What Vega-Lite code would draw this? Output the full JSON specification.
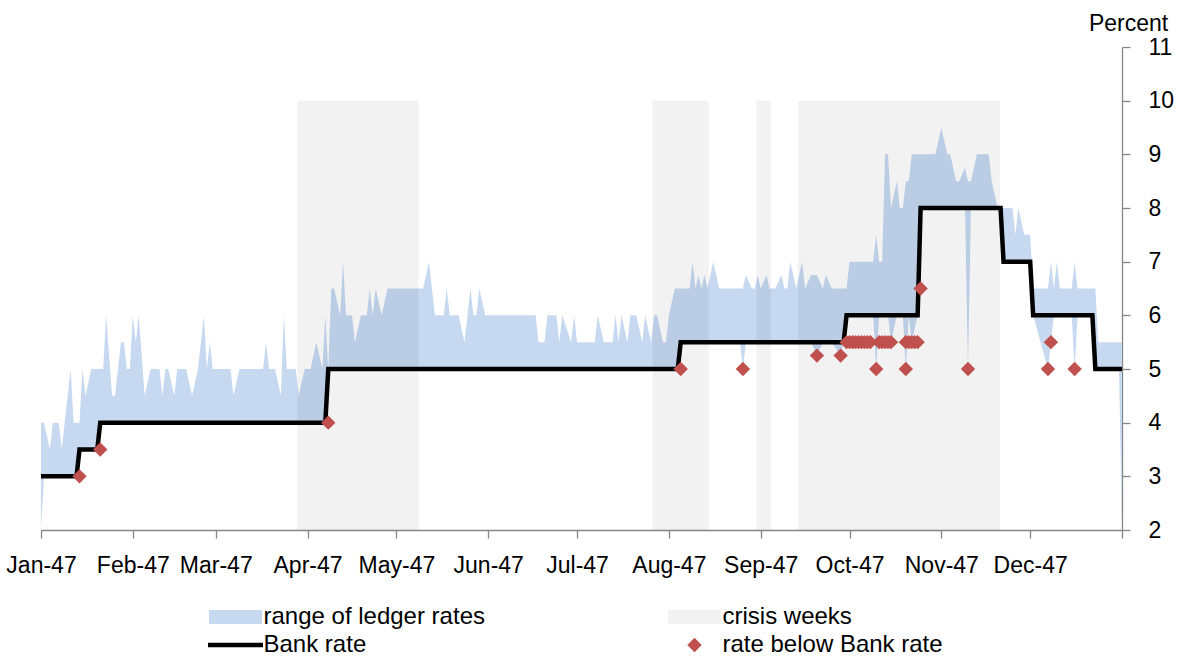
{
  "$schema": "https://vega.github.io/schema/vega-lite/v6.json",
  "width": 1081,
  "height": 483,
  "autosize": {"type": "none"},
  "padding": {"left": 41, "top": 47, "right": 57, "bottom": 127},
  "background": "white",
  "config": {"view": {"stroke": null}, "font": "Liberation Sans", "axis": {"grid": false}},
  "layer": [
    {
      "data": {"values": [
        {"date": "1847-01-01", "low": 2, "high": 4},
        {"date": "1847-01-02", "low": 3, "high": 4},
        {"date": "1847-01-04", "low": 3, "high": 3.5},
        {"date": "1847-01-05", "low": 3, "high": 4},
        {"date": "1847-01-07", "low": 3, "high": 4},
        {"date": "1847-01-08", "low": 3, "high": 3.5},
        {"date": "1847-01-11", "low": 3, "high": 5},
        {"date": "1847-01-12", "low": 3, "high": 4},
        {"date": "1847-01-13", "low": 3, "high": 4},
        {"date": "1847-01-14", "low": 3.5, "high": 4},
        {"date": "1847-01-15", "low": 3.5, "high": 5},
        {"date": "1847-01-16", "low": 3.5, "high": 4.5},
        {"date": "1847-01-18", "low": 3.5, "high": 5},
        {"date": "1847-01-20", "low": 3.5, "high": 5},
        {"date": "1847-01-21", "low": 4, "high": 5},
        {"date": "1847-01-22", "low": 4, "high": 5},
        {"date": "1847-01-23", "low": 4, "high": 6},
        {"date": "1847-01-25", "low": 4, "high": 4.5},
        {"date": "1847-01-26", "low": 4, "high": 4.5},
        {"date": "1847-01-28", "low": 4, "high": 5.5},
        {"date": "1847-01-29", "low": 4, "high": 5.5},
        {"date": "1847-01-30", "low": 4, "high": 5},
        {"date": "1847-01-31", "low": 4, "high": 5},
        {"date": "1847-02-01", "low": 4, "high": 6},
        {"date": "1847-02-02", "low": 4, "high": 5.5},
        {"date": "1847-02-03", "low": 4, "high": 6},
        {"date": "1847-02-05", "low": 4, "high": 4.5},
        {"date": "1847-02-07", "low": 4, "high": 5},
        {"date": "1847-02-10", "low": 4, "high": 5},
        {"date": "1847-02-11", "low": 4, "high": 4.5},
        {"date": "1847-02-12", "low": 4, "high": 5},
        {"date": "1847-02-13", "low": 4, "high": 5},
        {"date": "1847-02-15", "low": 4, "high": 4.5},
        {"date": "1847-02-16", "low": 4, "high": 5},
        {"date": "1847-02-19", "low": 4, "high": 5},
        {"date": "1847-02-21", "low": 4, "high": 4.5},
        {"date": "1847-02-23", "low": 4, "high": 5},
        {"date": "1847-02-25", "low": 4, "high": 6},
        {"date": "1847-02-26", "low": 4, "high": 5},
        {"date": "1847-02-27", "low": 4, "high": 5.5},
        {"date": "1847-02-28", "low": 4, "high": 5},
        {"date": "1847-03-06", "low": 4, "high": 5},
        {"date": "1847-03-07", "low": 4, "high": 4.5},
        {"date": "1847-03-09", "low": 4, "high": 5},
        {"date": "1847-03-17", "low": 4, "high": 5},
        {"date": "1847-03-18", "low": 4, "high": 5.5},
        {"date": "1847-03-19", "low": 4, "high": 5},
        {"date": "1847-03-21", "low": 4, "high": 5},
        {"date": "1847-03-23", "low": 4, "high": 4.5},
        {"date": "1847-03-24", "low": 4, "high": 6},
        {"date": "1847-03-25", "low": 4, "high": 5},
        {"date": "1847-03-28", "low": 4, "high": 5},
        {"date": "1847-03-29", "low": 4, "high": 4.5},
        {"date": "1847-03-31", "low": 4, "high": 5},
        {"date": "1847-04-02", "low": 4, "high": 5},
        {"date": "1847-04-04", "low": 4, "high": 5.5},
        {"date": "1847-04-06", "low": 4, "high": 5},
        {"date": "1847-04-07", "low": 4, "high": 6},
        {"date": "1847-04-08", "low": 5, "high": 5},
        {"date": "1847-04-09", "low": 5, "high": 6.5},
        {"date": "1847-04-10", "low": 5, "high": 6.5},
        {"date": "1847-04-12", "low": 5, "high": 6},
        {"date": "1847-04-13", "low": 5, "high": 7},
        {"date": "1847-04-14", "low": 5, "high": 6},
        {"date": "1847-04-16", "low": 5, "high": 6},
        {"date": "1847-04-17", "low": 5, "high": 5.5},
        {"date": "1847-04-19", "low": 5, "high": 6},
        {"date": "1847-04-21", "low": 5, "high": 6},
        {"date": "1847-04-22", "low": 5, "high": 6.5},
        {"date": "1847-04-23", "low": 5, "high": 6},
        {"date": "1847-04-24", "low": 5, "high": 6.5},
        {"date": "1847-04-26", "low": 5, "high": 6},
        {"date": "1847-04-28", "low": 5, "high": 6.5},
        {"date": "1847-05-10", "low": 5, "high": 6.5},
        {"date": "1847-05-12", "low": 5, "high": 7},
        {"date": "1847-05-14", "low": 5, "high": 6},
        {"date": "1847-05-17", "low": 5, "high": 6},
        {"date": "1847-05-18", "low": 5, "high": 6.5},
        {"date": "1847-05-19", "low": 5, "high": 6},
        {"date": "1847-05-22", "low": 5, "high": 6},
        {"date": "1847-05-24", "low": 5, "high": 5.5},
        {"date": "1847-05-26", "low": 5, "high": 6.5},
        {"date": "1847-05-27", "low": 5, "high": 6},
        {"date": "1847-05-28", "low": 5, "high": 6},
        {"date": "1847-05-29", "low": 5, "high": 6.5},
        {"date": "1847-05-31", "low": 5, "high": 6},
        {"date": "1847-06-17", "low": 5, "high": 6},
        {"date": "1847-06-18", "low": 5, "high": 5.5},
        {"date": "1847-06-20", "low": 5, "high": 5.5},
        {"date": "1847-06-21", "low": 5, "high": 6},
        {"date": "1847-06-24", "low": 5, "high": 6},
        {"date": "1847-06-25", "low": 5, "high": 5.5},
        {"date": "1847-06-26", "low": 5, "high": 6},
        {"date": "1847-06-29", "low": 5, "high": 5.5},
        {"date": "1847-06-30", "low": 5, "high": 6},
        {"date": "1847-07-01", "low": 5, "high": 5.5},
        {"date": "1847-07-07", "low": 5, "high": 5.5},
        {"date": "1847-07-08", "low": 5, "high": 6},
        {"date": "1847-07-10", "low": 5, "high": 5.5},
        {"date": "1847-07-13", "low": 5, "high": 5.5},
        {"date": "1847-07-14", "low": 5, "high": 6},
        {"date": "1847-07-15", "low": 5, "high": 5.5},
        {"date": "1847-07-16", "low": 5, "high": 6},
        {"date": "1847-07-18", "low": 5, "high": 5.5},
        {"date": "1847-07-19", "low": 5, "high": 6},
        {"date": "1847-07-21", "low": 5, "high": 6},
        {"date": "1847-07-23", "low": 5, "high": 5.5},
        {"date": "1847-07-24", "low": 5, "high": 6},
        {"date": "1847-07-26", "low": 5, "high": 5.5},
        {"date": "1847-07-27", "low": 5, "high": 6},
        {"date": "1847-07-28", "low": 5, "high": 6},
        {"date": "1847-07-30", "low": 5, "high": 5.5},
        {"date": "1847-07-31", "low": 5, "high": 5.5},
        {"date": "1847-08-01", "low": 5, "high": 6},
        {"date": "1847-08-03", "low": 5, "high": 6.5},
        {"date": "1847-08-04", "low": 5, "high": 6.5},
        {"date": "1847-08-05", "low": 5.5, "high": 6.5},
        {"date": "1847-08-08", "low": 5.5, "high": 6.5},
        {"date": "1847-08-09", "low": 5.5, "high": 7},
        {"date": "1847-08-10", "low": 5.5, "high": 6.5},
        {"date": "1847-08-11", "low": 5.5, "high": 6.75},
        {"date": "1847-08-12", "low": 5.5, "high": 6.5},
        {"date": "1847-08-13", "low": 5.5, "high": 6.75},
        {"date": "1847-08-14", "low": 5.5, "high": 6.5},
        {"date": "1847-08-16", "low": 5.5, "high": 7},
        {"date": "1847-08-18", "low": 5.5, "high": 6.5},
        {"date": "1847-08-25", "low": 5.5, "high": 6.5},
        {"date": "1847-08-26", "low": 5, "high": 6.5},
        {"date": "1847-08-27", "low": 5.5, "high": 6.75},
        {"date": "1847-08-29", "low": 5.5, "high": 6.5},
        {"date": "1847-08-30", "low": 5.5, "high": 6.5},
        {"date": "1847-08-31", "low": 5.5, "high": 6.75},
        {"date": "1847-09-01", "low": 5.5, "high": 6.5},
        {"date": "1847-09-03", "low": 5.5, "high": 6.75},
        {"date": "1847-09-04", "low": 5.5, "high": 6.5},
        {"date": "1847-09-06", "low": 5.5, "high": 6.5},
        {"date": "1847-09-08", "low": 5.5, "high": 6.75},
        {"date": "1847-09-09", "low": 5.5, "high": 6.5},
        {"date": "1847-09-10", "low": 5.5, "high": 6.5},
        {"date": "1847-09-11", "low": 5.5, "high": 7},
        {"date": "1847-09-12", "low": 5.5, "high": 6.75},
        {"date": "1847-09-13", "low": 5.5, "high": 6.5},
        {"date": "1847-09-15", "low": 5.5, "high": 7},
        {"date": "1847-09-16", "low": 5.5, "high": 6.5},
        {"date": "1847-09-18", "low": 5.5, "high": 6.75},
        {"date": "1847-09-20", "low": 5.25, "high": 6.75},
        {"date": "1847-09-22", "low": 5.5, "high": 6.5},
        {"date": "1847-09-23", "low": 5.5, "high": 6.75},
        {"date": "1847-09-25", "low": 5.5, "high": 6.5},
        {"date": "1847-09-28", "low": 5.25, "high": 6.5},
        {"date": "1847-09-29", "low": 5.5, "high": 6.5},
        {"date": "1847-09-30", "low": 6, "high": 6.5},
        {"date": "1847-10-01", "low": 6, "high": 7},
        {"date": "1847-10-08", "low": 6, "high": 7},
        {"date": "1847-10-09", "low": 6, "high": 7},
        {"date": "1847-10-10", "low": 5, "high": 7.5},
        {"date": "1847-10-11", "low": 6, "high": 7},
        {"date": "1847-10-12", "low": 6, "high": 7},
        {"date": "1847-10-13", "low": 6, "high": 9},
        {"date": "1847-10-14", "low": 6, "high": 9},
        {"date": "1847-10-15", "low": 5.5, "high": 8},
        {"date": "1847-10-17", "low": 6, "high": 8.5},
        {"date": "1847-10-18", "low": 6, "high": 8},
        {"date": "1847-10-19", "low": 6, "high": 8},
        {"date": "1847-10-20", "low": 5, "high": 8.5},
        {"date": "1847-10-21", "low": 6, "high": 8.5},
        {"date": "1847-10-22", "low": 5.5, "high": 9},
        {"date": "1847-10-24", "low": 6, "high": 9},
        {"date": "1847-10-25", "low": 8, "high": 9},
        {"date": "1847-10-30", "low": 8, "high": 9},
        {"date": "1847-11-01", "low": 8, "high": 9.5},
        {"date": "1847-11-03", "low": 8, "high": 9},
        {"date": "1847-11-04", "low": 8, "high": 9},
        {"date": "1847-11-06", "low": 8, "high": 8.5},
        {"date": "1847-11-07", "low": 8, "high": 8.5},
        {"date": "1847-11-09", "low": 8, "high": 8.75},
        {"date": "1847-11-10", "low": 5, "high": 8.5},
        {"date": "1847-11-11", "low": 8, "high": 8.5},
        {"date": "1847-11-13", "low": 8, "high": 9},
        {"date": "1847-11-17", "low": 8, "high": 9},
        {"date": "1847-11-18", "low": 8, "high": 8.5},
        {"date": "1847-11-20", "low": 8, "high": 8},
        {"date": "1847-11-21", "low": 8, "high": 8},
        {"date": "1847-11-22", "low": 7, "high": 8},
        {"date": "1847-11-23", "low": 7, "high": 8},
        {"date": "1847-11-25", "low": 7, "high": 8},
        {"date": "1847-11-26", "low": 7, "high": 7.5},
        {"date": "1847-11-27", "low": 7, "high": 8},
        {"date": "1847-11-29", "low": 7, "high": 7.5},
        {"date": "1847-12-01", "low": 7, "high": 7.5},
        {"date": "1847-12-02", "low": 6, "high": 6.5},
        {"date": "1847-12-07", "low": 5, "high": 6.5},
        {"date": "1847-12-08", "low": 5.5, "high": 7},
        {"date": "1847-12-09", "low": 6, "high": 6.5},
        {"date": "1847-12-10", "low": 6, "high": 7},
        {"date": "1847-12-11", "low": 6, "high": 6.5},
        {"date": "1847-12-15", "low": 6, "high": 6.5},
        {"date": "1847-12-16", "low": 5, "high": 7},
        {"date": "1847-12-17", "low": 6, "high": 6.5},
        {"date": "1847-12-22", "low": 6, "high": 6.5},
        {"date": "1847-12-23", "low": 5, "high": 6.5},
        {"date": "1847-12-24", "low": 5, "high": 5.5},
        {"date": "1847-12-31", "low": 5, "high": 5.5},
        {"date": "1848-01-01", "low": 2, "high": 5.5}
      ]},
      "mark": {"type": "area", "color": "#C6D9F1", "opacity": 1},
      "encoding": {
        "x": {
          "field": "date", "type": "temporal",
          "scale": {"type": "utc", "domain": [{"year": 1847, "month": 1, "date": 1, "utc": true}, {"year": 1848, "month": 1, "date": 1, "utc": true}]},
          "axis": {
            "title": null, "format": "%b-%y",
            "tickCount": {"interval": "month", "step": 1},
            "labelExpr": "datum.label == 'Jan-48' ? '' : datum.label",
            "labelFontSize": 23, "labelFont": "Liberation Sans", "labelColor": "#000000",
            "labelPadding": 16, "labelFlush": false, "labelOverlap": false,
            "tickSize": 8, "tickColor": "#868686", "domainColor": "#868686",
            "tickWidth": 1.3, "domainWidth": 1.3, "grid": false
          }
        },
        "y": {
          "field": "high", "type": "quantitative",
          "scale": {"domain": [2, 11], "nice": false, "zero": false},
          "axis": {
            "orient": "right", "values": [2, 3, 4, 5, 6, 7, 8, 9, 10, 11], "format": "d",
            "title": "Percent", "titleAngle": 0, "titleX": 6, "titleY": -17,
            "titleAlign": "center", "titleBaseline": "alphabetic",
            "titleFontSize": 23, "titleFontWeight": "normal", "titleColor": "#000000", "titleFont": "Liberation Sans",
            "labelFontSize": 23, "labelFont": "Liberation Sans", "labelColor": "#000000", "labelPadding": 18,
            "tickSize": 8, "tickColor": "#868686", "domainColor": "#868686",
            "tickWidth": 1.3, "domainWidth": 1.3, "grid": false, "labelFlush": false
          }
        },
        "y2": {"field": "low"}
      }
    },
    {
      "data": {"values": [
        {"start": "1847-03-28T12:00:00Z", "end": "1847-05-08T12:00:00Z"},
        {"start": "1847-07-26T12:00:00Z", "end": "1847-08-14T12:00:00Z"},
        {"start": "1847-08-30T14:00:00Z", "end": "1847-09-04T12:00:00Z"},
        {"start": "1847-09-13T14:00:00Z", "end": "1847-11-20T19:00:00Z"}
      ]},
      "mark": {"type": "rect", "color": "#000000", "opacity": 0.05},
      "encoding": {
        "x": {"field": "start", "type": "temporal"},
        "x2": {"field": "end"},
        "y": {"datum": 10, "type": "quantitative"},
        "y2": {"datum": 2}
      }
    },
    {
      "data": {"values": [
        {"date": "1847-01-01", "rate": 3},
        {"date": "1847-01-13", "rate": 3},
        {"date": "1847-01-14", "rate": 3.5},
        {"date": "1847-01-20", "rate": 3.5},
        {"date": "1847-01-21", "rate": 4},
        {"date": "1847-04-07", "rate": 4},
        {"date": "1847-04-08", "rate": 5},
        {"date": "1847-08-04", "rate": 5},
        {"date": "1847-08-05", "rate": 5.5},
        {"date": "1847-09-29", "rate": 5.5},
        {"date": "1847-09-30", "rate": 6},
        {"date": "1847-10-24", "rate": 6},
        {"date": "1847-10-25", "rate": 8},
        {"date": "1847-11-21", "rate": 8},
        {"date": "1847-11-22", "rate": 7},
        {"date": "1847-12-01", "rate": 7},
        {"date": "1847-12-02", "rate": 6},
        {"date": "1847-12-22", "rate": 6},
        {"date": "1847-12-23", "rate": 5},
        {"date": "1848-01-01", "rate": 5}
      ]},
      "mark": {"type": "line", "color": "#000000", "strokeWidth": 4.5},
      "encoding": {
        "x": {"field": "date", "type": "temporal"},
        "y": {"field": "rate", "type": "quantitative"}
      }
    },
    {
      "data": {"values": [
        {"date": "1847-01-14", "rate": 3, "series": "rate below Bank rate"},
        {"date": "1847-01-21", "rate": 3.5, "series": "rate below Bank rate"},
        {"date": "1847-04-08", "rate": 4, "series": "rate below Bank rate"},
        {"date": "1847-08-05", "rate": 5, "series": "rate below Bank rate"},
        {"date": "1847-08-26", "rate": 5, "series": "rate below Bank rate"},
        {"date": "1847-09-20", "rate": 5.25, "series": "rate below Bank rate"},
        {"date": "1847-09-28", "rate": 5.25, "series": "rate below Bank rate"},
        {"date": "1847-09-30", "rate": 5.5, "series": "rate below Bank rate"},
        {"date": "1847-10-01", "rate": 5.5, "series": "rate below Bank rate"},
        {"date": "1847-10-02", "rate": 5.5, "series": "rate below Bank rate"},
        {"date": "1847-10-03", "rate": 5.5, "series": "rate below Bank rate"},
        {"date": "1847-10-04", "rate": 5.5, "series": "rate below Bank rate"},
        {"date": "1847-10-05", "rate": 5.5, "series": "rate below Bank rate"},
        {"date": "1847-10-06", "rate": 5.5, "series": "rate below Bank rate"},
        {"date": "1847-10-07", "rate": 5.5, "series": "rate below Bank rate"},
        {"date": "1847-10-08", "rate": 5.5, "series": "rate below Bank rate"},
        {"date": "1847-10-10", "rate": 5, "series": "rate below Bank rate"},
        {"date": "1847-10-11", "rate": 5.5, "series": "rate below Bank rate"},
        {"date": "1847-10-12", "rate": 5.5, "series": "rate below Bank rate"},
        {"date": "1847-10-13", "rate": 5.5, "series": "rate below Bank rate"},
        {"date": "1847-10-14", "rate": 5.5, "series": "rate below Bank rate"},
        {"date": "1847-10-15", "rate": 5.5, "series": "rate below Bank rate"},
        {"date": "1847-10-20", "rate": 5, "series": "rate below Bank rate"},
        {"date": "1847-10-20", "rate": 5.5, "series": "rate below Bank rate"},
        {"date": "1847-10-21", "rate": 5.5, "series": "rate below Bank rate"},
        {"date": "1847-10-22", "rate": 5.5, "series": "rate below Bank rate"},
        {"date": "1847-10-23", "rate": 5.5, "series": "rate below Bank rate"},
        {"date": "1847-10-24", "rate": 5.5, "series": "rate below Bank rate"},
        {"date": "1847-10-25", "rate": 6.5, "series": "rate below Bank rate"},
        {"date": "1847-11-10", "rate": 5, "series": "rate below Bank rate"},
        {"date": "1847-12-07", "rate": 5, "series": "rate below Bank rate"},
        {"date": "1847-12-08", "rate": 5.5, "series": "rate below Bank rate"},
        {"date": "1847-12-16", "rate": 5, "series": "rate below Bank rate"}
      ]},
      "mark": {"type": "point", "filled": true, "size": 400, "opacity": 1, "strokeWidth": 0},
      "encoding": {
        "x": {"field": "date", "type": "temporal"},
        "y": {"field": "rate", "type": "quantitative"},
        "color": {
          "field": "series", "type": "nominal",
          "scale": {
            "domain": ["range of ledger rates", "Bank rate", "crisis weeks", "rate below Bank rate"],
            "range": ["#C6D9F1", "#000000", "#F2F2F2", "#C0504D"]
          },
          "legend": {
            "title": null, "orient": "none", "legendX": 182.5, "legendY": 558,
            "columns": 2, "columnPadding": 182, "rowPadding": 4, "padding": 0,
            "symbolSize": 400, "symbolStrokeWidth": 0, "symbolOpacity": 1,
            "labelFontSize": 24, "labelFont": "Liberation Sans", "labelColor": "#000000",
            "labelOffset": 16, "labelLimit": 600
          }
        },
        "shape": {
          "field": "series", "type": "nominal",
          "scale": {
            "domain": ["range of ledger rates", "Bank rate", "crisis weeks", "rate below Bank rate"],
            "range": ["M-2.65,-0.7H2.65V0.7H-2.65Z", "M-2.75,-0.22H2.75V0.22H-2.75Z", "M-2.65,-0.7H2.65V0.7H-2.65Z", "M0,-0.72L0.72,0L0,0.72L-0.72,0Z"]
          },
          "legend": {
            "title": null, "orient": "none", "legendX": 182.5, "legendY": 558,
            "columns": 2, "columnPadding": 182, "rowPadding": 4, "padding": 0,
            "symbolSize": 400, "symbolStrokeWidth": 0, "symbolOpacity": 1,
            "labelFontSize": 24, "labelFont": "Liberation Sans", "labelColor": "#000000",
            "labelOffset": 16, "labelLimit": 600
          }
        }
      }
    }
  ]
}
